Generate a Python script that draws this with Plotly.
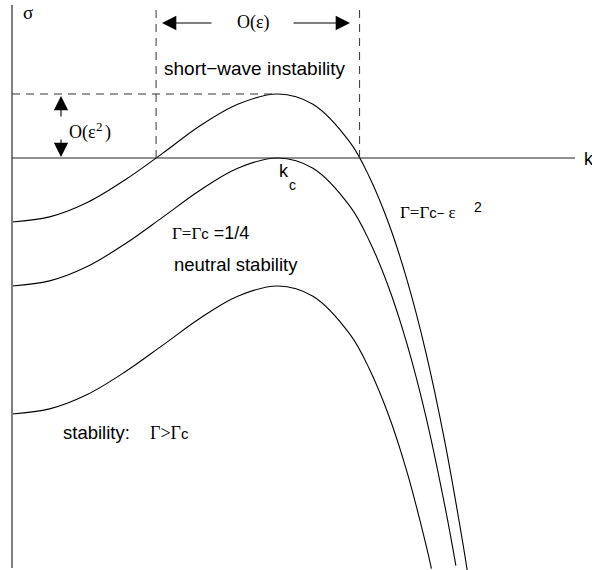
import plotly.graph_objects as go

# Growth rate sigma(k) for three values of the control parameter Gamma
k_unstable = [0.0, 0.1, 0.2, 0.3, 0.4, 0.5, 0.6, 0.7071, 0.8, 0.9, 0.95, 1.0, 1.05, 1.1, 1.15, 1.2, 1.21]
sigma_unstable = [-0.125, -0.115, -0.087, -0.043, 0.009, 0.063, 0.105, 0.125, 0.105, 0.029, -0.037,
                  -0.125, -0.238, -0.379, -0.552, -0.759, -0.805]

k_neutral = [0.0, 0.1, 0.2, 0.3, 0.4, 0.5, 0.6, 0.7071, 0.8, 0.9, 0.95, 1.0, 1.05, 1.1, 1.15, 1.18]
sigma_neutral = [-0.25, -0.240, -0.212, -0.168, -0.116, -0.063, -0.020, 0.0, -0.020, -0.096, -0.162,
                 -0.25, -0.363, -0.504, -0.677, -0.796]

k_stable = [0.0, 0.1, 0.2, 0.3, 0.4, 0.5, 0.6, 0.7071, 0.8, 0.9, 0.95, 1.0, 1.05, 1.1, 1.115]
sigma_stable = [-0.5, -0.490, -0.462, -0.418, -0.366, -0.313, -0.270, -0.25, -0.270, -0.346, -0.412,
                -0.5, -0.613, -0.754, -0.802]

k_c = 0.7071          # critical wavenumber
eps2 = 0.125          # peak growth rate of the unstable curve, O(eps^2)
k_band = [0.383, 0.924]  # edges of the unstable band, O(eps) wide

W, H = 592, 570
X_RANGE = [-0.0319, 1.5418]
Y_RANGE = [-0.8047, 0.3086]
SIG_TOP = 0.2988
SIG_BOT = -0.8008
K_END = 1.4965

SANS = "Liberation Sans, Arial, sans-serif"
SERIF = "Liberation Serif, Times New Roman, serif"


def px(x):
    return x / W


def py(y):
    return 1 - y / H


def sans(text, size):
    return f"<span style='font-family:Liberation Sans, Arial, sans-serif;font-size:{size}px'>{text}</span>"


fig = go.Figure()
for kk, ss in [(k_unstable, sigma_unstable), (k_neutral, sigma_neutral), (k_stable, sigma_stable)]:
    fig.add_trace(go.Scatter(x=kk, y=ss, mode="lines", line=dict(color="black", width=1.1, shape="spline"),
                             hoverinfo="skip", showlegend=False))

shapes = [
    # sigma axis and k axis
    dict(type="line", xref="x", yref="y", x0=0, x1=0, y0=SIG_BOT, y1=SIG_TOP,
         line=dict(color="#808080", width=2)),
    dict(type="line", xref="x", yref="y", x0=0, x1=K_END, y0=0, y1=0,
         line=dict(color="#222222", width=1.1)),
    # dashed guides marking the unstable band and its peak
    dict(type="line", xref="x", yref="y", x0=k_band[0], x1=k_band[0], y0=0, y1=SIG_TOP,
         line=dict(color="#333333", width=1, dash="8px,6px")),
    dict(type="line", xref="x", yref="y", x0=k_band[1], x1=k_band[1], y0=0, y1=SIG_TOP,
         line=dict(color="#333333", width=1, dash="8px,6px")),
    dict(type="line", xref="x", yref="y", x0=0, x1=k_c, y0=eps2, y1=eps2,
         line=dict(color="#333333", width=1, dash="8px,6px")),
]


def label(x, y, text, font, size, anchor="left"):
    return dict(xref="paper", yref="paper", x=px(x), y=py(y), text=text, showarrow=False,
                xanchor=anchor, yanchor="middle", font=dict(family=font, size=size, color="black"))


def arrow(x, y, ax, ay):
    # head at (x, y), tail offset (ax, ay) in pixels
    return dict(xref="paper", yref="paper", x=px(x), y=py(y), text="", showarrow=True,
                ax=ax, ay=ay, arrowhead=2, arrowsize=2.6, arrowwidth=1.1, arrowcolor="black",
                standoff=0, startstandoff=0)


annotations = [
    label(21, 13, "σ", SERIF, 19),
    label(582, 159, "k", SANS, 18),
    label(235, 22, "O(ε)", SERIF, 18),
    arrow(162, 23, 51, 0),
    arrow(350, 23, -58, 0),
    label(162, 68, "short−wave instability", SANS, 19),
    arrow(61, 96, 0, 22),
    arrow(61, 157, 0, -19),
    label(67, 132, "O(ε", SERIF, 18),
    label(94, 126, "2", SERIF, 13),
    label(103, 132, ")", SERIF, 18),
    label(277, 171, "k", SANS, 18),
    label(287, 185, "c", SANS, 14),
    label(398, 212, "Γ=Γ" + sans("c", 15) + sans("−", 13) + " ε", SERIF, 17),
    label(472, 207, "2", SANS, 14),
    label(170, 233, "Γ=Γ" + sans("c", 15) + sans(" =1/4", 18), SERIF, 17),
    label(172, 264, "neutral stability", SANS, 18.5),
    label(61, 432, "stability:", SANS, 18.5),
    label(148, 433, "Γ>Γ" + sans("c", 15), SERIF, 18),
]

fig.update_layout(
    width=W, height=H,
    margin=dict(l=0, r=0, t=0, b=0),
    paper_bgcolor="white", plot_bgcolor="white",
    xaxis=dict(range=X_RANGE, visible=False, fixedrange=True),
    yaxis=dict(range=Y_RANGE, visible=False, fixedrange=True),
    shapes=shapes,
    annotations=annotations,
    showlegend=False,
)

fig.write_html("out.html")
